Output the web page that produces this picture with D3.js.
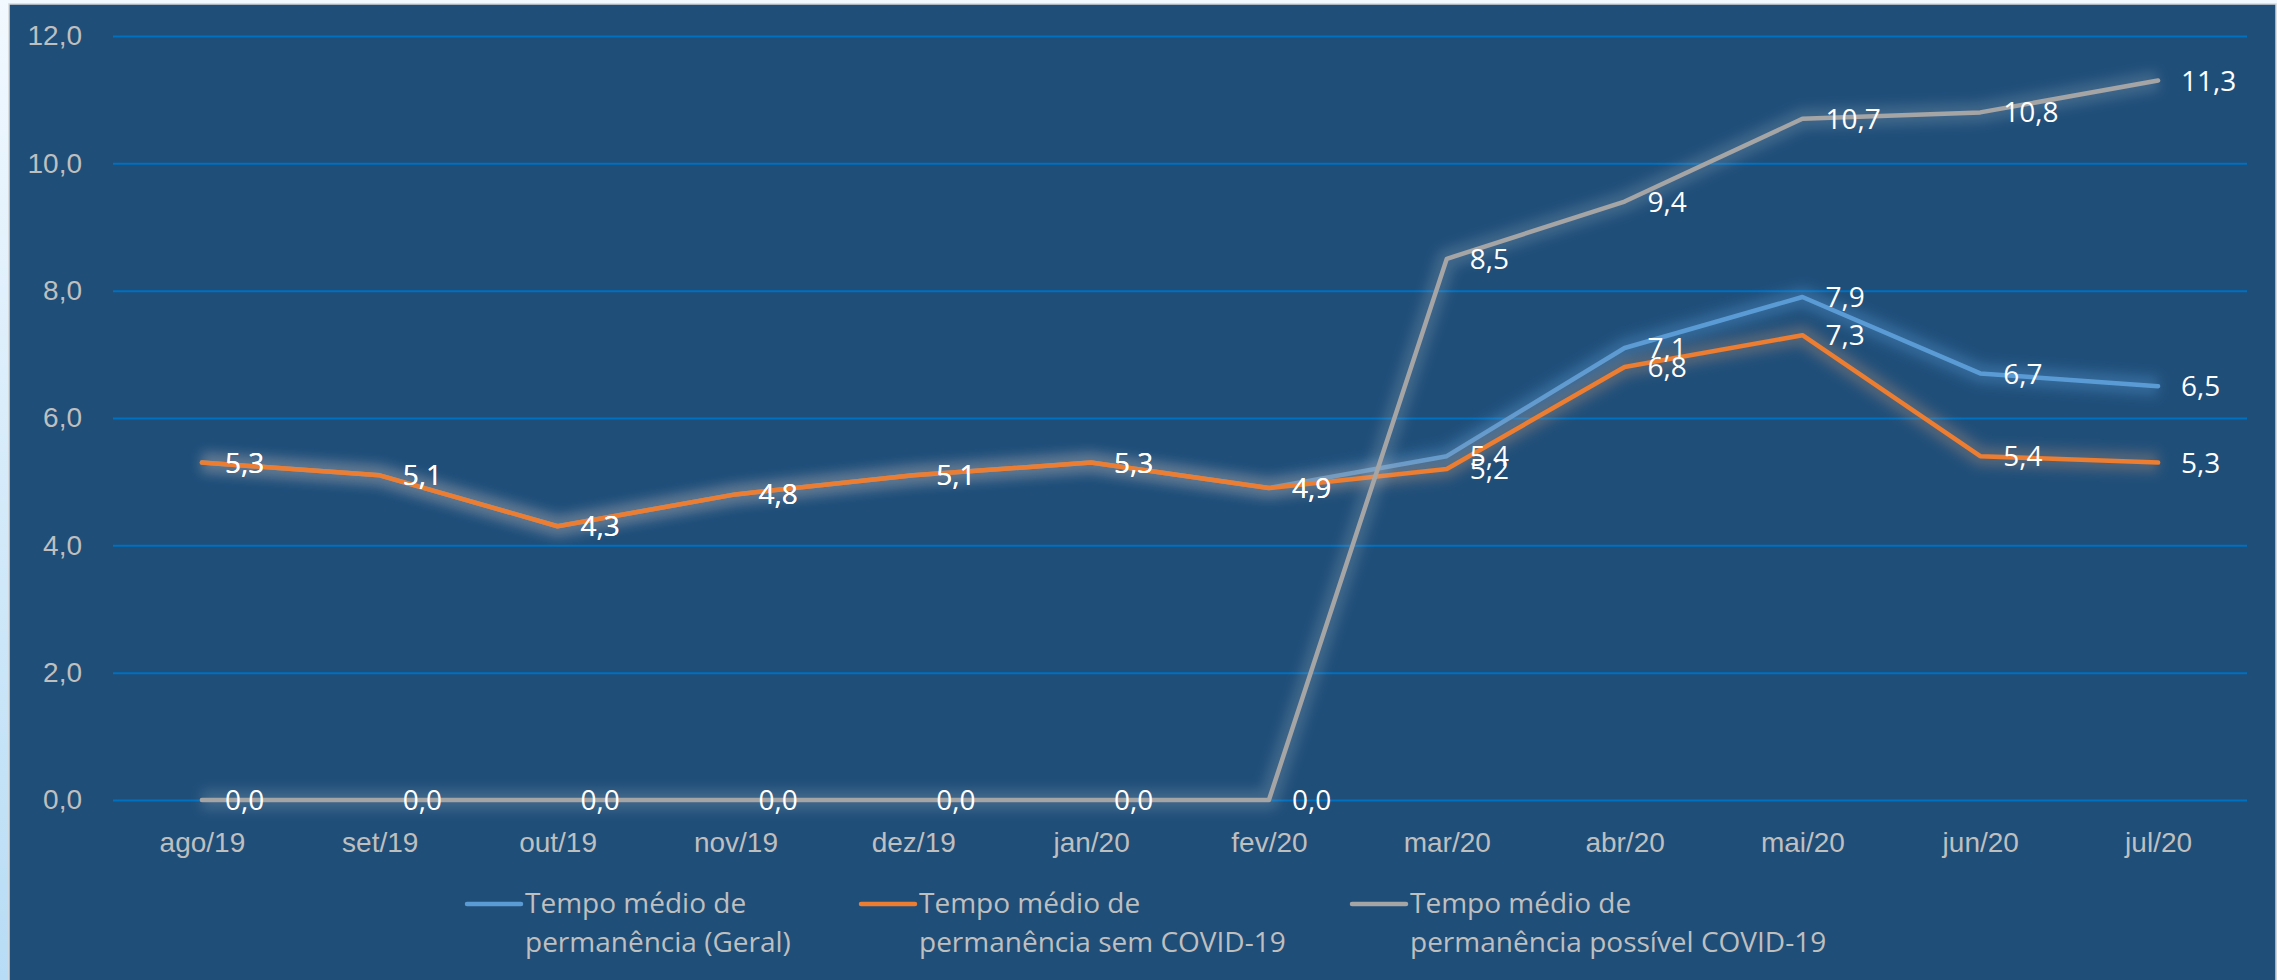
<!DOCTYPE html>
<html>
<head>
<meta charset="utf-8">
<script src="https://cdn.jsdelivr.net/npm/d3@7"></script>
<style>
  body { margin: 0; background: #ffffff; }
  svg { display: block; font-family: "Open Sans", sans-serif; }
</style>
</head>
<body>
<div id="chart"></div>
<script>
// data
var months = ["ago/19", "set/19", "out/19", "nov/19", "dez/19", "jan/20",
              "fev/20", "mar/20", "abr/20", "mai/20", "jun/20", "jul/20"];
var geral    = [5.3, 5.1, 4.3, 4.8, 5.1, 5.3, 4.9, 5.4, 7.1, 7.9, 6.7, 6.5];
var semCovid = [5.3, 5.1, 4.3, 4.8, 5.1, 5.3, 4.9, 5.2, 6.8, 7.3, 5.4, 5.3];
var possivel = [0.0, 0.0, 0.0, 0.0, 0.0, 0.0, 0.0, 8.5, 9.4, 10.7, 10.8, 11.3];
var yTicks = [0, 2, 4, 6, 8, 10, 12];
var legendLabels = [
  ["Tempo médio de", "permanência (Geral)"],
  ["Tempo médio de", "permanência sem COVID-19"],
  ["Tempo médio de", "permanência possível COVID-19"]
];

var W = 2277, H = 980;
var plot = {left: 113, right: 2247, top: 36, bottom: 800};

var ptBR = d3.formatLocale({decimal: ",", thousands: ".", grouping: [3], currency: ["R$", ""]});
var fmt = ptBR.format(".1f");

var series = [
  {name: legendLabels[0], values: geral,    color: "#5b9bd5", glow: "#5b9bd5", glowOp: 0.35},
  {name: legendLabels[1], values: semCovid, color: "#ed7d31", glow: "#c79a7c", glowOp: 0.3},
  {name: legendLabels[2], values: possivel, color: "#a5a5a5", glow: "#b8c0ca", glowOp: 0.22}
];

var svg = d3.select("#chart").append("svg")
    .attr("width", W)
    .attr("height", H);

var defs = svg.append("defs");
var grad = defs.append("linearGradient")
    .attr("id", "bgGrad")
    .attr("x1", 0).attr("y1", 0).attr("x2", 0).attr("y2", 1);
grad.append("stop").attr("offset", "0%").attr("stop-color", "#f2f9ff");
grad.append("stop").attr("offset", "100%").attr("stop-color", "#b7dcf5");

defs.append("filter")
    .attr("id", "glow")
    .attr("x", "-10%").attr("y", "-30%")
    .attr("width", "120%").attr("height", "160%")
  .append("feGaussianBlur")
    .attr("stdDeviation", 6);

//page background and chart panel
svg.append("rect")
    .attr("width", W).attr("height", H)
    .attr("fill", "url(#bgGrad)");

svg.append("rect")
    .attr("x", 9).attr("y", 4)
    .attr("width", 2267).attr("height", H)
    .attr("fill", "#1f4e79")
    .attr("stroke", "#d6d6d6")
    .attr("stroke-width", 1.5);

//scales
var x = d3.scalePoint()
    .domain(months)
    .range([plot.left, plot.right])
    .padding(0.5);

var y = d3.scaleLinear()
    .domain([0, 12])
    .range([plot.bottom, plot.top]);

//y axis with gridlines
var yAxis = svg.append("g")
    .attr("transform", "translate(" + plot.left + ",0)")
    .call(d3.axisLeft(y)
        .tickValues(yTicks)
        .tickSize(-(plot.right - plot.left))
        .tickPadding(31)
        .tickFormat(fmt));
yAxis.select(".domain").remove();
yAxis.selectAll("line")
    .attr("stroke", "#0070c0")
    .attr("stroke-width", 2);
yAxis.selectAll("text")
    .attr("fill", "#bfbfbf")
    .style("font-size", "28px");

//x axis labels
var xAxis = svg.append("g")
    .attr("transform", "translate(0," + plot.bottom + ")")
    .call(d3.axisBottom(x).tickSize(0).tickPadding(32));
xAxis.select(".domain").remove();
xAxis.selectAll("text")
    .attr("fill", "#bfbfbf")
    .style("font-size", "28px");

//lines
var line = d3.line()
    .x(function (d, i) { return x(months[i]); })
    .y(function (d) { return y(d); });

series.forEach(function (s) {
  var g = svg.append("g");
  g.append("path")
      .attr("d", line(s.values))
      .attr("fill", "none")
      .attr("stroke", s.glow)
      .attr("stroke-opacity", s.glowOp)
      .attr("stroke-width", 20)
      .attr("stroke-linejoin", "round")
      .attr("filter", "url(#glow)");
  g.append("path")
      .attr("d", line(s.values))
      .attr("fill", "none")
      .attr("stroke", s.color)
      .attr("stroke-width", 4.5)
      .attr("stroke-linejoin", "round")
      .attr("stroke-linecap", "round");
});

//data labels, right of each point
series.forEach(function (s) {
  svg.append("g")
    .selectAll("text")
    .data(s.values)
    .enter().append("text")
      .attr("x", function (d, i) { return x(months[i]) + 23; })
      .attr("y", function (d) { return y(d); })
      .attr("dy", "0.36em")
      .attr("fill", "#ffffff")
      .style("font-size", "28px")
      .text(function (d) { return fmt(d); });
});

//legend
var legendX = [467, 861, 1352];
var legend = svg.append("g");
series.forEach(function (s, i) {
  var lg = legend.append("g")
      .attr("transform", "translate(" + legendX[i] + ",904)");
  lg.append("line")
      .attr("x1", 0).attr("x2", 54)
      .attr("stroke", s.color)
      .attr("stroke-width", 4.5)
      .attr("stroke-linecap", "round");
  lg.append("text")
      .attr("x", 58)
      .attr("y", 9)
      .attr("fill", "#bfbfbf")
      .style("font-size", "28px")
      .selectAll("tspan")
      .data(s.name)
      .enter().append("tspan")
        .attr("x", 58)
        .attr("dy", function (d, j) { return j === 0 ? 0 : 39; })
        .text(function (d) { return d; });
});
</script>
</body>
</html>
